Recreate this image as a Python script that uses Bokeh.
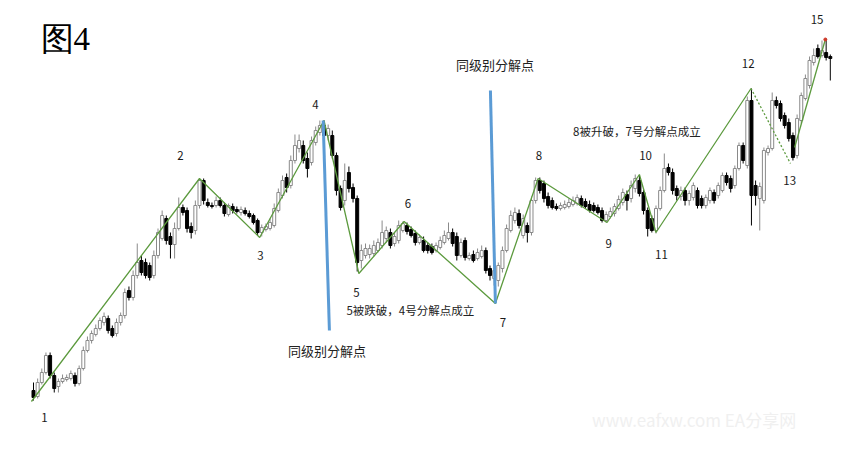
from bokeh.plotting import figure
from bokeh.models import Range1d, ColumnDataSource
from bokeh.embed import file_html
from bokeh.resources import INLINE
from bokeh.core.properties import value

# ---- candle data (bar index -> open/high/low/close, arbitrary price units) ----
opens = [60, 54, 68, 78, 95, 75, 64, 69, 71, 72, 75, 67, 82, 100, 110, 116, 122, 128, 132, 122,
         117, 128, 135, 160, 153, 175, 190, 188, 185, 175, 195, 212, 232, 214, 206, 222, 243, 240, 224, 220,
         245, 270, 248, 245, 245, 250, 245, 236, 244, 241, 238, 240, 237, 235, 230, 218, 221, 222, 225, 240,
         255, 273, 265, 290, 302, 305, 292, 288, 308, 318, 325, 315, 315, 295, 262, 250, 278, 263, 252, 190,
         195, 196, 197, 200, 205, 212, 218, 207, 210, 220, 225, 221, 217, 208, 210, 205, 204, 200, 203, 208,
         212, 218, 214, 195, 210, 192, 196, 192, 194, 200, 182, 172, 170, 182, 200, 220, 230, 237, 215, 225,
         218, 250, 270, 267, 254, 250, 244, 242, 243, 244, 246, 247, 252, 249, 246, 245, 243, 240, 230, 234,
         237, 242, 248, 256, 252, 262, 270, 258, 240, 232, 220, 242, 260, 283, 278, 262, 254, 260, 250, 253,
         260, 252, 245, 250, 258, 255, 260, 275, 272, 265, 282, 305, 285, 350, 265, 252, 250, 298, 302, 350,
         347, 335, 328, 315, 295, 330, 352, 365, 388, 402, 395, 398, 394]
highs = [68, 72, 82, 98, 98, 78, 72, 76, 76, 80, 78, 85, 104, 114, 120, 126, 133, 138, 135, 125,
         132, 138, 162, 164, 180, 207, 195, 192, 188, 200, 222, 240, 235, 218, 228, 253, 246, 243, 228, 250,
         272, 272, 252, 248, 254, 253, 248, 247, 247, 244, 244, 243, 240, 237, 232, 226, 227, 232, 247, 262,
         275, 277, 295, 316, 316, 310, 298, 314, 324, 330, 330, 326, 320, 298, 265, 287, 284, 267, 255, 206,
         207, 206, 210, 212, 230, 224, 222, 218, 230, 229, 228, 224, 220, 216, 214, 208, 207, 208, 214, 220,
         228, 222, 218, 212, 213, 198, 200, 202, 205, 203, 185, 184, 188, 204, 226, 240, 243, 241, 236, 228,
         254, 273, 273, 270, 258, 253, 247, 248, 250, 252, 254, 256, 255, 252, 250, 248, 246, 243, 239, 243,
         247, 255, 262, 260, 270, 276, 275, 262, 243, 235, 245, 264, 297, 287, 282, 265, 264, 263, 260, 268,
         263, 255, 256, 263, 261, 268, 278, 278, 275, 285, 308, 308, 354, 362, 270, 268, 303, 305, 358, 354,
         350, 338, 332, 318, 336, 358, 376, 394, 402, 406, 410, 412, 396]
lows = [50, 52, 66, 76, 72, 58, 58, 67, 69, 70, 64, 65, 80, 98, 107, 114, 120, 125, 117, 113,
        114, 125, 132, 150, 150, 172, 175, 172, 170, 172, 192, 210, 206, 192, 192, 220, 235, 218, 212, 216,
        242, 246, 243, 242, 243, 243, 234, 234, 237, 237, 235, 235, 232, 226, 215, 214, 219, 220, 223, 238,
        252, 258, 262, 287, 298, 287, 273, 285, 305, 315, 312, 310, 292, 255, 240, 245, 258, 248, 179, 182,
        192, 192, 194, 198, 202, 208, 202, 204, 207, 218, 216, 213, 205, 206, 198, 197, 196, 198, 201, 206,
        210, 204, 190, 193, 190, 190, 188, 190, 192, 177, 170, 165, 164, 178, 198, 218, 227, 222, 212, 208,
        215, 247, 257, 248, 242, 241, 240, 240, 241, 242, 244, 245, 243, 242, 238, 238, 236, 228, 228, 232,
        234, 240, 245, 240, 248, 258, 254, 236, 214, 218, 217, 240, 258, 275, 256, 250, 250, 245, 245, 250,
        242, 242, 242, 247, 247, 252, 258, 265, 258, 262, 280, 287, 282, 225, 245, 220, 247, 295, 300, 342,
        329, 322, 309, 290, 292, 327, 350, 362, 385, 392, 393, 390, 370]
closes = [53, 68, 78, 95, 75, 62, 69, 72, 73, 77, 67, 82, 100, 110, 117, 122, 130, 134, 120, 115,
          128, 135, 158, 153, 175, 188, 178, 175, 173, 195, 218, 235, 210, 206, 222, 243, 238, 222, 218, 245,
          270, 250, 245, 244, 250, 245, 237, 245, 240, 239, 241, 237, 234, 228, 218, 223, 224, 228, 242, 258,
          270, 263, 290, 305, 310, 290, 282, 310, 320, 325, 315, 322, 295, 260, 243, 270, 262, 252, 188, 200,
          202, 202, 205, 208, 218, 220, 205, 214, 225, 227, 219, 215, 208, 213, 200, 200, 198, 205, 210, 215,
          218, 207, 195, 208, 193, 195, 190, 198, 200, 180, 175, 180, 185, 200, 222, 235, 238, 225, 232, 218,
          250, 270, 260, 252, 245, 243, 242, 245, 246, 248, 250, 253, 245, 244, 240, 240, 238, 230, 236, 239,
          244, 251, 258, 250, 265, 272, 257, 240, 222, 220, 242, 260, 282, 278, 260, 255, 260, 250, 257, 265,
          245, 245, 253, 260, 250, 265, 275, 268, 262, 282, 305, 290, 350, 255, 255, 264, 300, 302, 350, 345,
          332, 325, 312, 293, 332, 355, 372, 390, 395, 394, 400, 393, 392]

# ---- zigzag pivots ----
zz_idx = [-0.5, 40, 54.5, 70, 78.4, 89.3, 111.3, 121.6, 138.2, 146, 150, 172.9]
zz_price = [49, 272, 213, 330, 177, 229, 147, 272, 228, 276, 218, 362]
dot_idx = [172.9, 182.4]
dot_price = [362, 287]
last_idx = [183.4, 190.8]
last_price = [303, 411]

pivot_labels = ["1", "2", "3", "4", "5", "6", "7", "8", "9", "10", "11", "12", "13", "15"]
label_idx = [2.65, 35.4, 54.7, 67.95, 77.8, 90.2, 113.1, 121.8, 138.6, 147.5, 151.3, 172.2, 182.2, 188.8]
label_price = [33, 295, 195, 346, 158, 247, 128, 295, 207, 295, 196, 387, 270, 431]

# ---- decomposition (split) lines ----
split_idx = [[69.8, 71.3], [110.1, 111.3]]
split_price = [[330, 120], [360, 147]]

notes = ["同级别分解点", "同级别分解点", "5被跌破，4号分解点成立", "8被升破，7号分解点成立"]
note_idx = [111.2, 70.7, 90.8, 145.4]
note_price = [386, 100, 141, 320]

idx = list(range(len(closes)))
up = [c >= o for o, c in zip(opens, closes)]
src = ColumnDataSource(dict(
    x=idx,
    top=[max(o, c) for o, c in zip(opens, closes)],
    bottom=[min(o, c) for o, c in zip(opens, closes)],
    high=highs, low=lows,
    fill=["white" if u else "black" for u in up],
    line=["#8a8a8a" if u else "black" for u in up],
))

p = figure(width=839, height=433, x_range=Range1d(-7.952, 194.217), y_range=Range1d(17, 450),
           output_backend="svg", toolbar_location=None, min_border=0,
           x_axis_type=None, y_axis_type=None)
p.outline_line_color = None
p.background_fill_color = "white"
p.border_fill_color = "white"

# watermark
p.text(x=[134.6], y=[31], text=["www.eafxw.com   EA分享网"], text_font=value("Noto Sans CJK SC"),
       text_font_size="17px", text_color="#f0f0f0", text_align="left", text_baseline="middle")

p.segment(x0="x", y0="high", x1="x", y1="low", line_color="line", line_width=1, source=src)
p.vbar(x="x", width=0.72, top="top", bottom="bottom", fill_color="fill", line_color="line",
       line_width=1, source=src)

green = "#5c9a3e"
p.line(zz_idx, zz_price, line_color=green, line_width=1.3)
p.line(dot_idx, dot_price, line_color=green, line_width=1.3, line_dash="2 2")
p.line(last_idx, last_price, line_color=green, line_width=1.3)
p.scatter([last_idx[-1]], [last_price[-1]], size=3, color="#d03a2a")

p.multi_line(split_idx, split_price, line_color="#5b9bd5", line_width=3)

p.text(x=label_idx, y=label_price, text=pivot_labels, text_font=value("Noto Sans CJK SC"),
       text_font_size="11.5px", text_color="#1a1a1a", text_align="center", text_baseline="middle")

p.text(x=note_idx[:2], y=note_price[:2], text=notes[:2], text_font=value("Noto Sans CJK SC"),
       text_font_size="13px", text_color="#222222", text_align="center", text_baseline="middle")
p.text(x=note_idx[2:], y=note_price[2:], text=notes[2:], text_font=value("Noto Sans CJK SC"),
       text_font_size="11.5px", text_color="#222222", text_align="center", text_baseline="middle")

p.text(x=[1.69], y=[412], text=["图4"], text_font=value("Liberation Serif"),
       text_font_size="33px", text_color="black", text_align="left", text_baseline="middle")

open("out.html", "w").write(file_html(p, INLINE))
